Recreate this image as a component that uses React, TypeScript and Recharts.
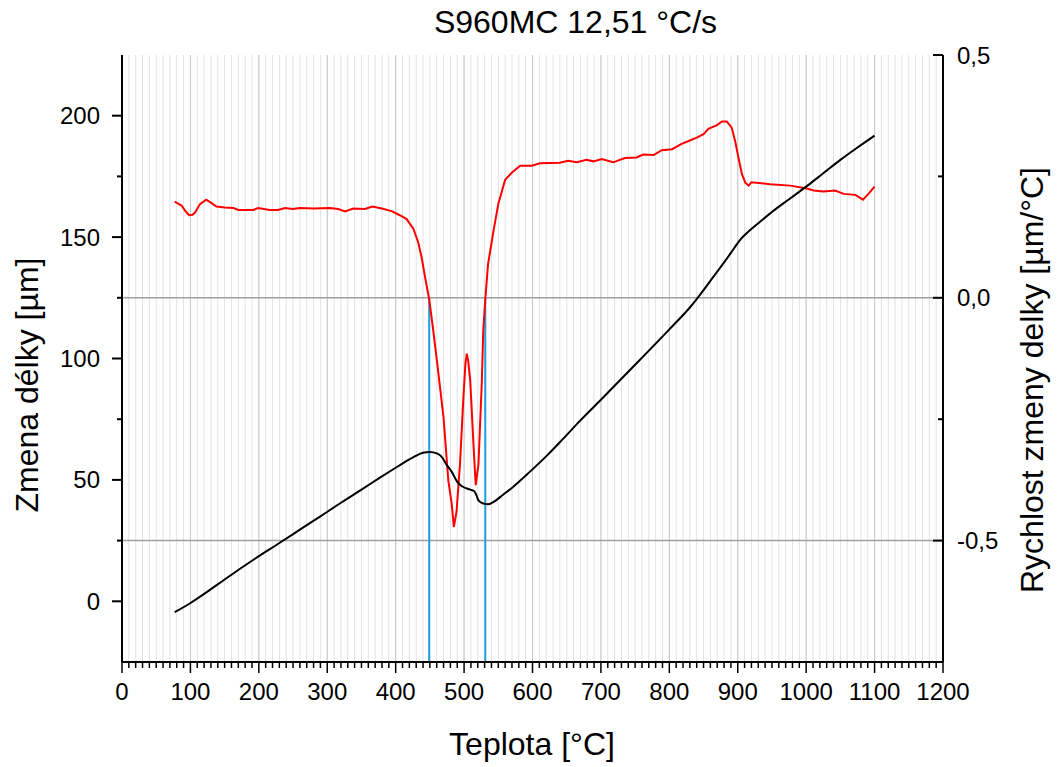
import React from 'react';
import { ComposedChart, Line, XAxis, YAxis, CartesianGrid, ReferenceLine } from 'recharts';

// Teplota [°C] vs Zmena délky [µm] (black, left axis)
const lengthTemps = [77, 99, 129, 150, 191, 230, 260, 290, 320, 350, 377, 400, 415, 426, 440, 450, 460, 467, 475, 482, 490, 497, 509, 515, 518, 521, 528, 535, 545, 557, 572, 596, 621, 645, 670, 700, 750, 800, 830, 864, 890, 898, 905, 913, 930, 952, 975, 1001, 1025, 1050, 1075, 1100];
const lengthValues = [-4.5, -0.9, 4.8, 9, 16.9, 24, 29.5, 35, 40.6, 46, 50.9, 55, 57.6, 59.4, 61.2, 61.5, 60.9, 59.6, 56, 53.3, 49.2, 47.4, 46, 45.3, 43.7, 41.6, 40.3, 40, 41.3, 43.9, 47.2, 53.3, 60, 67, 74.5, 83, 97.4, 112, 121, 133.5, 143.5, 146.8, 149.4, 151.6, 155.7, 160.8, 165.6, 171, 176.3, 181.8, 186.9, 191.8];

// Teplota [°C] vs Rychlost zmeny delky [µm/°C] (red, right axis)
const rateTemps = [77, 87, 93, 98, 103, 107, 114, 123, 130, 138, 150, 163, 170, 192, 199, 216, 228, 238, 250, 260, 280, 304, 316, 326, 338, 355, 366, 380, 395, 406, 416, 426, 433, 438, 443, 449, 455, 462, 470, 477, 482, 485, 489, 494, 499, 502, 504, 506, 509, 514, 517, 521, 526, 528, 531, 535, 543, 550, 560, 570, 582, 599, 611, 640, 652, 665, 679, 689, 701, 718, 735, 752, 762, 777, 789, 804, 818, 830, 840, 850, 857, 869, 877, 884, 891, 896, 901, 906, 911, 916, 920, 947, 977, 1001, 1011, 1025, 1042, 1055, 1072, 1083, 1091, 1100];
const rateValues = [0.198, 0.19, 0.178, 0.17, 0.171, 0.176, 0.193, 0.202, 0.196, 0.188, 0.186, 0.185, 0.181, 0.181, 0.185, 0.181, 0.181, 0.185, 0.183, 0.185, 0.184, 0.185, 0.183, 0.178, 0.184, 0.183, 0.188, 0.184, 0.178, 0.17, 0.162, 0.142, 0.114, 0.083, 0.042, -0.003, -0.068, -0.15, -0.247, -0.377, -0.425, -0.472, -0.44, -0.343, -0.205, -0.135, -0.115, -0.13, -0.171, -0.309, -0.386, -0.343, -0.171, -0.068, -0.003, 0.069, 0.138, 0.193, 0.243, 0.258, 0.272, 0.272, 0.277, 0.278, 0.282, 0.279, 0.284, 0.281, 0.286, 0.279, 0.288, 0.289, 0.295, 0.294, 0.304, 0.306, 0.317, 0.324, 0.33, 0.337, 0.348, 0.355, 0.363, 0.363, 0.351, 0.324, 0.289, 0.255, 0.237, 0.231, 0.238, 0.234, 0.231, 0.225, 0.221, 0.219, 0.221, 0.214, 0.212, 0.202, 0.214, 0.229];

const transitionTemps = [449, 531];

const xMajorTicks = [0, 100, 200, 300, 400, 500, 600, 700, 800, 900, 1000, 1100, 1200];
const xAllTicks: number[] = [];
for (let i = 0; i < xMajorTicks.length - 1; i++) {
  for (let j = 0; j < 10; j++) xAllTicks.push(xMajorTicks[i] + j * 10);
}
xAllTicks.push(1200);
const topTicks = [100, 200, 300, 400, 500, 600, 700, 800, 900, 1000, 1100];
const leftTicks = [0, 25, 50, 75, 100, 125, 150, 175, 200];
const leftLabels = [0, 50, 100, 150, 200];
const rightTicks = [-0.5, -0.25, 0, 0.25, 0.5];
const rightLabels = [-0.5, 0, 0.5];
const rightGridValues = [0, -0.5];

const lengthData = lengthTemps.map((t, i) => ({ t, v: lengthValues[i] }));
const rateData = rateTemps.map((t, i) => ({ t, r: rateValues[i] }));

const FONT = '"Liberation Sans", Arial, sans-serif';

const BottomTick = (props: any) => {
  const { x, y, payload } = props;
  const v = payload.value;
  const major = xMajorTicks.includes(v);
  return (
    <g>
      <line x1={x} x2={x} y1={y} y2={y + (major ? 11 : 6)} stroke="#000" strokeWidth={1.5} />
      {major && (
        <text x={x} y={y + 38} textAnchor="middle" fontSize={24} fontFamily={FONT} fill="#000">{v}</text>
      )}
    </g>
  );
};

const TopTick = (props: any) => {
  const { x, y } = props;
  return <line x1={x} x2={x} y1={y} y2={y + 10} stroke="#000" strokeWidth={2} />;
};

const LeftTick = (props: any) => {
  const { x, y, payload } = props;
  const v = payload.value;
  const major = leftLabels.includes(v);
  return (
    <g>
      <line x1={x} x2={x - (major ? 10 : 5)} y1={y} y2={y} stroke="#000" strokeWidth={2} />
      {major && (
        <text x={x - 22} y={y + 8.5} textAnchor="end" fontSize={24} fontFamily={FONT} fill="#000">{v}</text>
      )}
    </g>
  );
};

const RightTick = (props: any) => {
  const { x, y, payload } = props;
  const v = payload.value;
  const major = rightLabels.includes(v);
  return (
    <g>
      <line x1={x} x2={x - (major ? 10 : 5)} y1={y} y2={y} stroke="#000" strokeWidth={2} />
      {major && (
        <text x={x + 14} y={y + 8.5} textAnchor="start" fontSize={24} fontFamily={FONT} fill="#000">
          {v.toFixed(1).replace('.', ',')}
        </text>
      )}
    </g>
  );
};

const textBase: React.CSSProperties = {
  position: 'absolute',
  fontFamily: FONT,
  fontSize: 32,
  lineHeight: '32px',
  color: '#000',
  whiteSpace: 'nowrap',
};

export default function App() {
  return (
    <div style={{ position: 'absolute', left: 0, top: 0, width: 1058, height: 767, background: '#fff' }}>
      <ComposedChart width={1058} height={767} margin={{ top: 55, right: 0, bottom: 0, left: 0 }}>
        <CartesianGrid xAxisId="b" yAxisId="left" horizontal={false} stroke="#e2e2e2" strokeWidth={1} />
        <XAxis
          xAxisId="b"
          dataKey="t"
          type="number"
          domain={[0, 1200]}
          ticks={xAllTicks}
          interval={0}
          height={105}
          tickSize={0}
          tickMargin={0}
          tickLine={false}
          tick={<BottomTick />}
          axisLine={{ stroke: '#000', strokeWidth: 2 }}
        />
        <XAxis
          xAxisId="top"
          orientation="top"
          type="number"
          domain={[0, 1200]}
          ticks={topTicks}
          interval={0}
          height={0}
          tickSize={0}
          tickMargin={0}
          tickLine={false}
          tick={<TopTick />}
          axisLine={{ stroke: '#000', strokeWidth: 2 }}
        />
        <YAxis
          yAxisId="left"
          type="number"
          domain={[-25, 225]}
          ticks={leftTicks}
          interval={0}
          width={122}
          tickSize={0}
          tickMargin={0}
          tickLine={false}
          tick={<LeftTick />}
          axisLine={{ stroke: '#000', strokeWidth: 2 }}
        />
        <YAxis
          yAxisId="right"
          orientation="right"
          type="number"
          domain={[-0.75, 0.5]}
          ticks={rightTicks}
          interval={0}
          width={115}
          tickSize={0}
          tickMargin={0}
          tickLine={false}
          tick={<RightTick />}
          axisLine={{ stroke: '#000', strokeWidth: 2 }}
        />
        {xMajorTicks.slice(1, -1).map((t) => (
          <ReferenceLine key={'g' + t} x={t} xAxisId="b" yAxisId="left" stroke="#c8c8c8" strokeWidth={1} />
        ))}
        {rightGridValues.map((v) => (
          <ReferenceLine key={'h' + v} y={v} xAxisId="b" yAxisId="right" stroke="#a0a0a0" strokeWidth={1.5} />
        ))}
        {transitionTemps.map((t) => (
          <ReferenceLine
            key={'b' + t}
            xAxisId="b"
            yAxisId="right"
            segment={[{ x: t, y: 0 }, { x: t, y: -0.75 }]}
            stroke="#1e9fe0"
            strokeWidth={2}
          />
        ))}
        <Line
          data={rateData}
          dataKey="r"
          xAxisId="b"
          yAxisId="right"
          type="linear"
          stroke="#ff0000"
          strokeWidth={2}
          dot={false}
          activeDot={false}
          isAnimationActive={false}
        />
        <Line
          data={lengthData}
          dataKey="v"
          xAxisId="b"
          yAxisId="left"
          type="monotone"
          stroke="#000000"
          strokeWidth={2}
          dot={false}
          activeDot={false}
          isAnimationActive={false}
        />
      </ComposedChart>
      <div style={{ ...textBase, left: 0, width: 1151, top: 6, textAlign: 'center' }}>S960MC 12,51 °C/s</div>
      <div style={{ ...textBase, left: 0, width: 1064, top: 728, textAlign: 'center' }}>Teplota [°C]</div>
      <div style={{ ...textBase, left: 27, top: 385, transform: 'translate(-50%, -50%) rotate(-90deg)' }}>Zmena délky [µm]</div>
      <div style={{ ...textBase, left: 1032, top: 380, transform: 'translate(-50%, -50%) rotate(-90deg)' }}>Rychlost zmeny delky [µm/°C]</div>
    </div>
  );
}
